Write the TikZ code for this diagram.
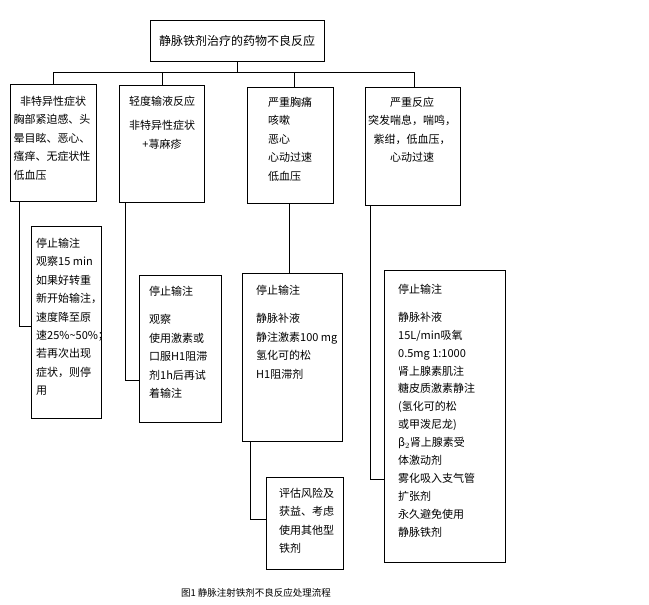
\documentclass[tikz,border=0pt]{standalone}
\usepackage{fontspec}
\setmainfont{Noto Sans CJK SC}
\usetikzlibrary{positioning}
\tikzstyle{box} = [draw=black, thick, rectangle, inner sep=0pt]
\tikzstyle{txt} = [inner sep=0pt, font=\fontsize{11}{18.4}\selectfont]
\tikzstyle{link} = [thick, -]

\begin{document}
\begin{tikzpicture}[x=1pt, y=-1pt]
\useasboundingbox (0,0) rectangle (649,605);
% top
\node (top) [box, minimum width=174pt, minimum height=41pt, font=\fontsize{12}{14}\selectfont] at (237,40.5) {静脉铁剂治疗的药物不良反应};
% first level
\node (a1) [box, anchor=north west, minimum width=86pt, minimum height=117pt] at (10,84) {};
\node (b1) [box, anchor=north west, minimum width=85pt, minimum height=117pt] at (119,85) {};
\node (c1) [box, anchor=north west, minimum width=86pt, minimum height=116pt] at (247,87) {};
\node (d1) [box, anchor=north west, minimum width=95pt, minimum height=118pt] at (365,87) {};
\node (a1t) [txt, anchor=north, align=left] at (53,96) {\makebox[79pt]{非特异性症状}\\胸部紧迫感、头\\晕目眩、恶心、\\瘙痒、无症状性\\低血压};
\node (b1t) [txt, anchor=north, align=center] at (162,96) {轻度输液反应\\[6pt]非特异性症状\\+荨麻疹};
\node (c1t) [txt, anchor=north west, align=left] at (268,97) {严重胸痛\\咳嗽\\恶心\\心动过速\\低血压};
\node (d1t) [txt, anchor=north, align=center] at (412,97) {严重反应\\突发喘息，喘鸣，\\紫绀，低血压，\\心动过速};
% second level
\node (a2) [box, anchor=north west, minimum width=70pt, minimum height=192pt] at (31,226) {};
\node (b2) [box, anchor=north west, minimum width=82pt, minimum height=147pt] at (139,275) {};
\node (c2) [box, anchor=north west, minimum width=100pt, minimum height=168pt] at (242,273) {};
\node (c3) [box, anchor=north west, minimum width=77pt, minimum height=92pt] at (266,477) {};
\node (d2) [box, anchor=north west, minimum width=121pt, minimum height=292pt] at (384,270) {};
\node (a2t) [txt, anchor=north west, align=left] at (36,238) {停止输注\\观察15 min\\如果好转重\\新开始输注，\\速度降至原\\速25\%\textasciitilde50\%；\\若再次出现\\症状，则停\\用};
\node (b2t) [txt, anchor=north west, align=left] at (149,286) {停止输注\\[10pt]观察\\使用激素或\\口服H1阻滞\\剂1h后再试\\着输注};
\node (c2t) [txt, anchor=north west, align=left] at (256,285) {停止输注\\[10pt]静脉补液\\静注激素100 mg\\氢化可的松\\H1阻滞剂};
\node (c3t) [txt, anchor=north west, align=left] at (279,488) {评估风险及\\获益、考虑\\使用其他型\\铁剂};
\node (d2t) [txt, anchor=north west, align=left, font=\fontsize{11}{17.9}\selectfont] at (398,284) {停止输注\\[10pt]静脉补液\\15L/min吸氧\\0.5mg 1:1000\\肾上腺素肌注\\糖皮质激素静注\\(氢化可的松\\或甲泼尼龙)\\β$_2$肾上腺素受\\体激动剂\\雾化吸入支气管\\扩张剂\\永久避免使用\\静脉铁剂};
% connectors
\coordinate (bus) at (237,72);
\draw [link] (top.south) -- (bus);
\draw [link] (53,72) -- (415,72);
\draw [link] (a1.north -| 53,0) -- (53,72);
\draw [link] (b1.north -| 162,0) -- (162,72);
\draw [link] (c1.north -| 294,0) -- (294,72);
\draw [link] (d1.north -| 414,0) -- (414,72);
\coordinate (ja) at (19,326);
\coordinate (jb) at (125,380);
\coordinate (jc) at (250,519);
\coordinate (jd) at (370,479);
\draw [link] (a1.south -| ja) -- (ja) -- (a2.west |- ja);
\draw [link] (b1.south -| jb) -- (jb) -- (b2.west |- jb);
\draw [link] (c1.south -| 289,0) -- (c2.north -| 289,0);
\draw [link] (c2.south -| jc) -- (jc) -- (c3.west |- jc);
\draw [link] (d1.south -| jd) -- (jd) -- (d2.west |- jd);
% caption
\node (cap) [font=\fontsize{9.5}{11}\selectfont] at (256,593) {图1 静脉注射铁剂不良反应处理流程};
\end{tikzpicture}
\end{document}
